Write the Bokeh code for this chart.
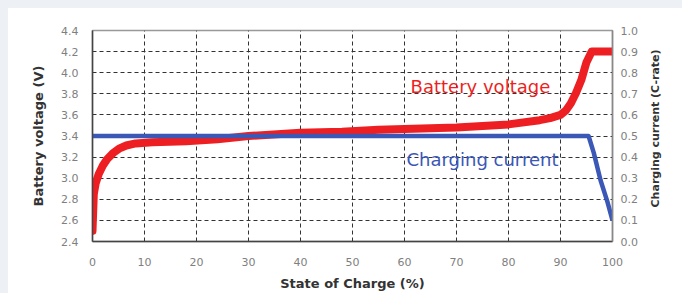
import math
from bokeh.plotting import figure
from bokeh.layouts import row
from bokeh.models import LinearAxis, Range1d, FixedTicker, Label, PrintfTickFormatter
from bokeh.core.properties import value
from bokeh.embed import file_html
from bokeh.resources import INLINE

# ---- data ----
soc_v = [0, 0.25, 0.6, 1.2, 2, 2.8, 4, 5.1, 6.5, 8.3, 11.5, 18, 24, 30, 40, 48, 55,
         70, 80, 86, 88, 90, 91, 92, 93, 94, 95, 96, 100]
voltage = [2.5, 2.85, 2.95, 3.04, 3.12, 3.18, 3.24, 3.28, 3.31, 3.33, 3.34, 3.35, 3.37,
           3.40, 3.43, 3.44, 3.46, 3.48, 3.51, 3.55, 3.57, 3.60, 3.64, 3.71, 3.81,
           3.93, 4.10, 4.20, 4.20]
soc_i = [0, 95.4, 96.4, 97.7, 99, 100]
current = [0.5, 0.5, 0.42, 0.29, 0.19, 0.1]

x_ticks = [0, 10, 20, 30, 40, 50, 60, 70, 80, 90, 100]
v_ticks = [2.4, 2.6, 2.8, 3.0, 3.2, 3.4, 3.6, 3.8, 4.0, 4.2, 4.4]
c_ticks = [0.0, 0.1, 0.2, 0.3, 0.4, 0.5, 0.6, 0.7, 0.8, 0.9, 1.0]

x_title = "State of Charge (%)"
v_title = "Battery voltage (V)"
c_title = "Charging current (C-rate)"
v_label = "Battery voltage"
c_label = "Charging current"

RED = "#ee1f22"
BLUE = "#3b58b6"
TICK_FONT = "DejaVu Sans"
TITLE_FONT = "DejaVu Sans"

p = figure(width=642, height=293, x_range=Range1d(0, 100), y_range=Range1d(2.4, 4.4),
           output_backend="svg", toolbar_location=None,
           min_border_left=92, min_border_right=30, min_border_top=30, min_border_bottom=52)
p.extra_y_ranges = {"cur": Range1d(0, 1)}
p.background_fill_color = "white"
p.border_fill_color = "white"
p.outline_line_color = "#999999"
p.outline_line_width = 1.5

bottom = p.xaxis[0]
left = p.yaxis[0]
bottom.ticker = FixedTicker(ticks=x_ticks)
left.ticker = FixedTicker(ticks=v_ticks)
left.formatter = PrintfTickFormatter(format="%.1f")
right = LinearAxis(y_range_name="cur", ticker=FixedTicker(ticks=c_ticks),
                   formatter=PrintfTickFormatter(format="%.1f"))
p.add_layout(right, "right")

for ax in [bottom, left, right]:
    ax.major_tick_out = 0
    ax.major_tick_in = 0
    ax.minor_tick_out = 0
    ax.minor_tick_in = 0
    ax.major_label_text_font = TICK_FONT
    ax.major_label_text_font_size = "11px"
    ax.major_label_text_color = "#7f7f7f"
    ax.axis_label_text_font = TITLE_FONT
    ax.axis_label_text_font_size = "13px"
    ax.axis_label_text_font_style = "bold"
    ax.axis_label_text_color = "#333333"

bottom.axis_label = x_title
left.axis_label = v_title

bottom.axis_line_color = "#444444"
bottom.axis_line_width = 1.5
left.axis_line_color = "#444444"
left.axis_line_width = 1.5
right.axis_line_color = "#888888"
right.axis_line_width = 1.5

left.major_label_standoff = 14
left.axis_label_standoff = 12
bottom.major_label_standoff = 16
bottom.axis_label_standoff = 7
right.major_label_standoff = 8

# grid
p.xgrid.ticker = FixedTicker(ticks=x_ticks[1:-1])
p.ygrid.ticker = FixedTicker(ticks=v_ticks[1:-1])
for g in [p.xgrid[0], p.ygrid[0]]:
    g.grid_line_color = "#333333"
    g.grid_line_dash = "4 3"
    g.grid_line_width = 1

# curves
p.line(soc_v, voltage, line_color=RED, line_width=8, line_cap="round", line_join="round")
p.line(soc_i, current, y_range_name="cur", line_color=BLUE, line_width=4.5, line_join="round")

p.add_layout(Label(x=74.6, y=3.87, text=v_label, text_color=RED, text_font=TITLE_FONT,
                   text_font_size="18px", text_align="center", text_baseline="middle"))
p.add_layout(Label(x=75.0, y=3.18, text=c_label, text_color=BLUE, text_font=TITLE_FONT,
                   text_font_size="18px", text_align="center", text_baseline="middle"))

# narrow strip on the right carrying the right-axis title (reads bottom-to-top)
t = figure(width=40, height=293, x_range=Range1d(0, 40), y_range=Range1d(0, 293),
           output_backend="svg", toolbar_location=None,
           min_border_left=0, min_border_right=0, min_border_top=0, min_border_bottom=0)
t.axis.visible = False
t.grid.visible = False
t.outline_line_color = None
t.background_fill_color = "white"
t.border_fill_color = "white"
t.text(x=[13], y=[157], text=[c_title], angle=math.pi / 2,
       text_font=value(TITLE_FONT), text_font_size="11px", text_font_style="bold",
       text_color="#333333", text_align="center", text_baseline="middle")

layout = row(p, t, spacing=0)
html = file_html(layout, INLINE)
style = ("<style>html,body{overflow:hidden;}"
         "body::before{content:'';position:fixed;left:0;top:0;width:100%;height:8px;"
         "background:#edf1f6;z-index:10;}"
         "body::after{content:'';position:fixed;left:0;top:0;width:8px;height:100%;"
         "background:#edf1f6;z-index:10;}</style>")
html = html.replace("</head>", style + "</head>", 1)
open("out.html", "w").write(html)
